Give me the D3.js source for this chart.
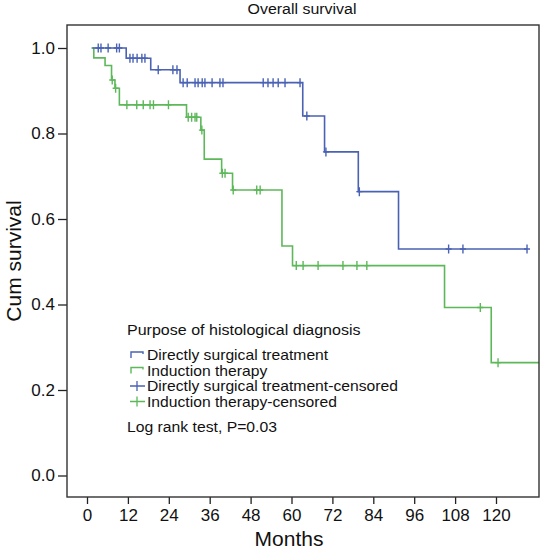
<!DOCTYPE html>
<html><head><meta charset="utf-8">
<script src="https://cdn.jsdelivr.net/npm/d3@7"></script>
<style>body{margin:0;background:#fff}svg{display:block;font-family:"Liberation Sans",Arial,Helvetica,sans-serif}</style>
</head><body><svg id="c" width="544" height="549"></svg>
<script>
// ---- data ----
const groups = ["Directly surgical treatment", "Induction therapy"];
// step function: [time (months), cumulative survival after step]
const surgicalSteps = [[1.6,1.0],[11.5,0.976],[18.7,0.949],[27.3,0.919],[63.3,0.841],[69.7,0.757],[79.6,0.664],[91.4,0.530]];
const surgicalEnd = 129.1;
const surgicalCensored = [3.3,4.1,6.2,8.7,9.5,12.6,13.5,14.7,16.1,17.0,20.9,25.2,26.4,28.2,29.4,31.7,32.6,33.8,34.6,36.7,39.0,39.9,51.7,53.1,54.6,56.1,58.1,62.5,64.5,70.1,79.9,106.1,110.3,129.1];
const inductionSteps = [[1.3,1.0],[2.0,0.977],[5.3,0.959],[7.2,0.925],[8.2,0.906],[9.5,0.867],[29.2,0.838],[33.4,0.808],[34.4,0.740],[39.5,0.707],[42.7,0.668],[57.2,0.537],[60.3,0.491],[104.9,0.393],[118.6,0.264]];
const inductionEnd = 133;
const inductionCensored = [7.4,8.4,11.7,14.6,16.5,18.5,19.5,23.9,29.7,30.7,31.7,32.2,33.7,39.7,40.5,42.9,49.8,50.8,61.4,63.4,67.8,75.1,79.2,82.1,115.4,120.6];
const xTicks = [0,12,24,36,48,60,72,84,96,108,120];
const yTicks = [0.0,0.2,0.4,0.6,0.8,1.0];
const legendTitle = "Purpose of histological diagnosis";
const legendItems = ["Directly surgical treatment","Induction therapy","Directly surgical treatment-censored","Induction therapy-censored"];
const noteText = "Log rank test, P=0.03";
const titleText = "Overall survival";

// ---- layout ----
const svg = d3.select("#c");
const frame = {l:67, r:539, t:25, b:497};
const x = d3.scaleLinear().domain([0,120]).range([87,496]);
const y = d3.scaleLinear().domain([0,1]).range([475.5,48]);
const blue = "#4a62b4", green = "#5db85a";

svg.append("text").attr("transform","translate(302,14) scale(1.1,1)").attr("text-anchor","middle")
  .attr("font-size",14.5).attr("fill","#111").text(titleText);

svg.append("defs").append("clipPath").attr("id","clip").append("rect")
  .attr("x",frame.l).attr("y",frame.t).attr("width",frame.r-frame.l).attr("height",frame.b-frame.t);

// axes
const xAxis = d3.axisBottom(x).tickValues(xTicks).tickSize(7).tickPadding(5).tickFormat(d3.format("d"));
const gx = svg.append("g").attr("transform",`translate(0,${frame.b})`).call(xAxis);
gx.select(".domain").remove();
gx.selectAll("text").attr("font-size",17).attr("fill","#111").attr("font-family","Liberation Sans, Arial, sans-serif");
gx.selectAll("line").attr("stroke","#222").attr("stroke-width",1.3);

const yAxis = d3.axisLeft(y).tickValues(yTicks).tickSize(9).tickPadding(3).tickFormat(d3.format(".1f"));
const gy = svg.append("g").attr("transform",`translate(${frame.l},0)`).call(yAxis);
gy.select(".domain").remove();
gy.selectAll("text").attr("font-size",17).attr("fill","#111").attr("font-family","Liberation Sans, Arial, sans-serif");
gy.selectAll("line").attr("stroke","#222").attr("stroke-width",1.3);

svg.append("text").attr("x",289).attr("y",546).attr("text-anchor","middle").attr("font-size",21).attr("fill","#111").text("Months");
svg.append("text").attr("transform","translate(21,261) rotate(-90)").attr("text-anchor","middle").attr("font-size",21).attr("fill","#111").text("Cum survival");

// curves
function stepPath(steps, end){
  const pts = [[steps[0][0], steps[0][1]]];
  for(let i=1;i<steps.length;i++){
    pts.push([steps[i][0], steps[i-1][1]]);
    pts.push([steps[i][0], steps[i][1]]);
  }
  pts.push([end, steps[steps.length-1][1]]);
  return d3.line().x(d=>x(d[0])).y(d=>y(d[1]))(pts);
}
function survAt(steps, t){
  let s = steps[0][1];
  for(const st of steps){ if(st[0] <= t) s = st[1]; }
  return s;
}
const plot = svg.append("g").attr("clip-path","url(#clip)");
const series = [
  {steps: surgicalSteps, end: surgicalEnd, cens: surgicalCensored, color: blue},
  {steps: inductionSteps, end: inductionEnd, cens: inductionCensored, color: green}
];
[series[1], series[0]].forEach(s=>{
  plot.append("path").attr("d", stepPath(s.steps, s.end)).attr("fill","none")
    .attr("stroke", s.color).attr("stroke-width",1.6);
  plot.selectAll(null).data(s.cens).join("path")
    .attr("d", t => { const cx = x(t), cy = y(survAt(s.steps,t)); return `M${cx},${cy-4.5}V${cy+4.5}M${cx-3},${cy}H${cx+3}`; })
    .attr("stroke", s.color).attr("stroke-width",1.4).attr("fill","none");
});

// frame
svg.append("rect").attr("x",frame.l).attr("y",frame.t).attr("width",frame.r-frame.l).attr("height",frame.b-frame.t)
  .attr("fill","none").attr("stroke","#333").attr("stroke-width",1.4);

// legend
const lg = svg.append("g");
lg.append("text").attr("transform","translate(127,335) scale(1.07,1)").attr("font-size",15).attr("fill","#111").text(legendTitle);
const rowY = [355,370.5,386,401.5];
const colors = [blue, green, blue, green];
legendItems.forEach((t,i)=>{
  const yy = rowY[i];
  if(i<2){
    lg.append("path").attr("d",`M131,${yy+3}V${yy-3}H143V${yy-1}`).attr("fill","none").attr("stroke",colors[i]).attr("stroke-width",1.4);
  } else {
    lg.append("path").attr("d",`M130,${yy}H145M137,${yy-5}V${yy+5}`).attr("fill","none").attr("stroke",colors[i]).attr("stroke-width",1.3);
  }
  lg.append("text").attr("transform",`translate(147,${yy+5}) scale(1.12,1)`).attr("font-size",14).attr("fill","#111").text(t);
});
lg.append("text").attr("transform","translate(127,432) scale(1.05,1)").attr("font-size",15).attr("fill","#111").text(noteText);
</script></body></html>
